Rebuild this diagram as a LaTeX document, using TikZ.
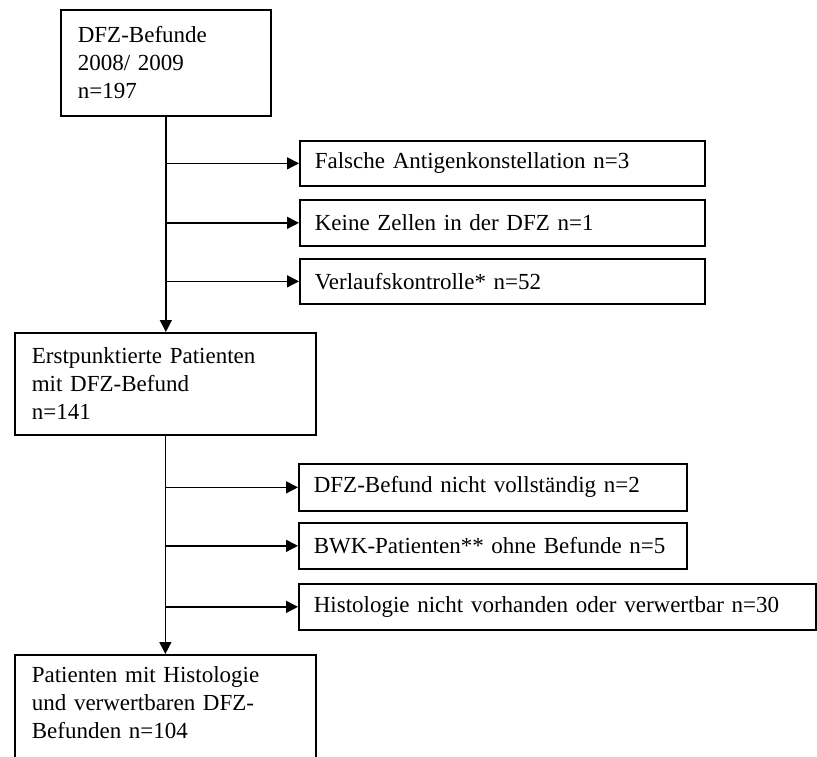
\documentclass[tikz,border=0pt]{standalone}
\usepackage{fontspec}
\setmainfont{Liberation Serif}
\usetikzlibrary{arrows.meta}

\begin{document}
\begin{tikzpicture}[
    x=1pt,
    y=-1pt,
    line cap=butt,
    line join=miter,
    box/.style={draw, line width=1.7pt, anchor=north west, align=left,
        inner xsep=15pt, inner ysep=0pt,
        font=\fontsize{23}{28}\selectfont},
    arr/.style={line width=1.4pt, -{Triangle[length=12pt,width=12pt]}}
]

% -------------------------------------------------
% Rahmen des Bildes
% -------------------------------------------------

\useasboundingbox (0,0) rectangle (817,756);

% -------------------------------------------------
% Hauptkette
% -------------------------------------------------

\node[box, inner xsep=17pt, text width=176, minimum height=106] (dfz) at (60,9)
    {DFZ-Befunde\\2008/ 2009\\n=197};
\node[box, inner xsep=17pt, text width=267, minimum height=102] (erst) at (14,332)
    {Erstpunktierte Patienten\\mit DFZ-Befund\\n=141};
\node[box, inner xsep=17pt, text width=267, inner ysep=12pt, text depth=100pt] (pat) at (14,654)
    {Patienten mit Histologie\\und verwertbaren DFZ-\\Befunden n=104};

% -------------------------------------------------
% Ausschluesse (oben)
% -------------------------------------------------

\node[box, text width=375, minimum height=45] (falsch) at (299,140)
    {Falsche Antigenkonstellation n=3};
\node[box, text width=375, minimum height=46] (keine) at (299,199)
    {Keine Zellen in der DFZ n=1};
\node[box, text width=375, minimum height=45] (verlauf) at (299,258)
    {Verlaufskontrolle* n=52};

% -------------------------------------------------
% Ausschluesse (unten)
% -------------------------------------------------

\node[box, text width=358, minimum height=47] (unvoll) at (298,463)
    {DFZ-Befund nicht vollständig n=2};
\node[box, text width=358, minimum height=46] (bwk) at (298,522)
    {BWK-Patienten** ohne Befunde n=5};
\node[box, text width=487, minimum height=46] (histo) at (298,583)
    {Histologie nicht vorhanden oder verwertbar n=30};

% -------------------------------------------------
% Pfeile
% -------------------------------------------------

\draw[arr] (dfz.south) -- (dfz.south |- erst.north);
\draw[arr] (dfz.south |- falsch.west) -- (falsch.west);
\draw[arr] (dfz.south |- keine.west) -- (keine.west);
\draw[arr] (dfz.south |- verlauf.west) -- (verlauf.west);

\draw[arr] (erst.south) -- (erst.south |- pat.north);
\draw[arr] (erst.south |- unvoll.west) -- (unvoll.west);
\draw[arr] (erst.south |- bwk.west) -- (bwk.west);
\draw[arr] (erst.south |- histo.west) -- (histo.west);

\end{tikzpicture}
\end{document}
